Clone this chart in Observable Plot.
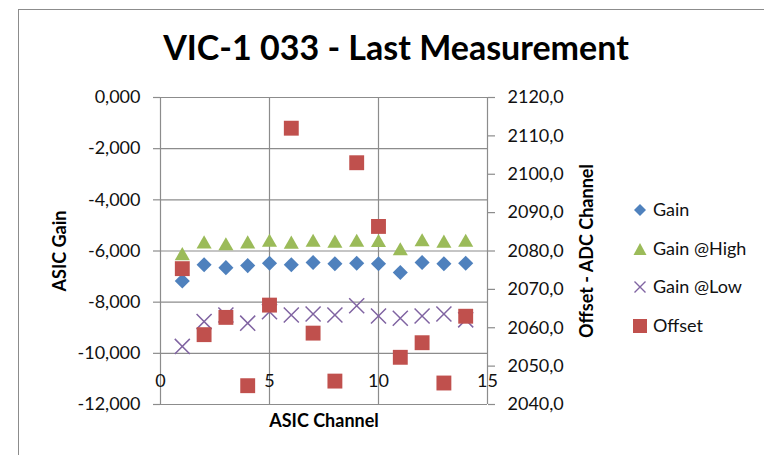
<!DOCTYPE html>
<html>
<head>
<meta charset="utf-8">
<script src="https://cdn.jsdelivr.net/npm/d3@7"></script>
<script src="https://cdn.jsdelivr.net/npm/@observablehq/plot@0.6"></script>
<style>
  html, body { margin: 0; padding: 0; background: #fff; overflow: hidden; }
  #wrap { position: relative; width: 764px; height: 455px; overflow: hidden; font-family: Lato, "Open Sans", sans-serif; color: #111; }
  #frame { position: absolute; left: 18px; top: 9px; width: 800px; height: 500px; border: 1px solid #8c8c8c; box-sizing: border-box; }
  #title { position: absolute; left: 0; width: 792px; top: 27px; text-align: center; font-weight: bold; font-size: 34px; line-height: 40px; color: #000; }
  #legend { position: absolute; left: 632px; top: 200px; font-size: 18px; }
  .item { position: absolute; left: 0; height: 20px; line-height: 20px; white-space: nowrap; }
  .item svg { position: absolute; left: 0; top: 2px; }
  .item span { position: absolute; left: 21px; top: -1px; }
  svg.plot { position: absolute; left: 0; top: 0; }
</style>
</head>
<body>
<div id="wrap">
  <div id="frame"></div>
  <div id="title"></div>
  <div id="legend"></div>
</div>
<script>
// ---- data ----
const title = "VIC-1 033 - Last Measurement";
const channels = [1, 2, 3, 4, 5, 6, 7, 8, 9, 10, 11, 12, 13, 14];
const gain     = [-7.17, -6.54, -6.65, -6.57, -6.48, -6.54, -6.45, -6.50, -6.48, -6.50, -6.84, -6.45, -6.50, -6.48];
const gainHigh = [-6.11, -5.65, -5.72, -5.65, -5.59, -5.66, -5.59, -5.62, -5.59, -5.60, -5.92, -5.57, -5.62, -5.59];
const gainLow  = [-9.73, -8.76, -8.50, -8.82, -8.37, -8.50, -8.46, -8.50, -8.14, -8.54, -8.63, -8.54, -8.46, -8.69];
const offset   = [2075.4, 2058.2, 2062.7, 2044.9, 2065.9, 2112.0, 2058.6, 2046.1, 2103.0, 2086.4, 2052.3, 2056.1, 2045.6, 2063.0];
const xTicks = [0, 5, 10, 15];
const leftTicks = [0, -2, -4, -6, -8, -10, -12];
const rightTicks = [2040, 2050, 2060, 2070, 2080, 2090, 2100, 2110, 2120];
const seriesNames = ["Gain", "Gain @High", "Gain @Low", "Offset"];
const colors = { blue: "#4F81BD", green: "#9BBB59", purple: "#8064A2", red: "#C0504D" };

// secondary axis mapped onto primary
const toLeft = d3.scaleLinear().domain([2040, 2120]).range([-12, 0]);
const rows = channels.map((c, i) => ({ ch: c, gain: gain[i], high: gainHigh[i], low: gainLow[i], offset: offset[i] }));

const fmtL = d => d.toFixed(3).replace(".", ",");
const fmtR = d => toLeft.invert(d).toFixed(1).replace(".", ",");
const grid = "#8c8c8c";
const FS = 18;

const chart = Plot.plot({
  width: 764, height: 455,
  marginLeft: 160, marginRight: 277, marginTop: 97, marginBottom: 51,
  x: { domain: [0, 15] },
  y: { domain: [-12, 0] },
  style: { fontFamily: "Lato, 'Open Sans', sans-serif", background: "transparent", color: "#111" },
  marks: [
    Plot.gridY(leftTicks, { stroke: grid, strokeOpacity: 1, strokeWidth: 1.2 }),
    Plot.gridX(xTicks, { stroke: grid, strokeOpacity: 1, strokeWidth: 1.2 }),
    Plot.axisY(leftTicks, { anchor: "left", tickSize: 7, tickPadding: 13, tickFormat: fmtL, fontSize: FS, stroke: grid, strokeWidth: 1.2, label: null }),
    Plot.axisY(rightTicks.map(toLeft), { anchor: "right", tickSize: 7, tickPadding: 13, tickFormat: fmtR, fontSize: FS, stroke: grid, strokeWidth: 1.2, label: null }),
    Plot.axisX(xTicks, { anchor: "bottom", tickSize: 0, tickPadding: 0, dy: -30, fontSize: FS, label: null }),
    Plot.text(["ASIC Gain"], { frameAnchor: "left", textAnchor: "middle", rotate: -90, dx: -100, fontWeight: "bold", fontSize: FS, fill: "#000" }),
    Plot.text(["Offset - ADC Channel"], { frameAnchor: "right", textAnchor: "middle", rotate: -90, dx: 100, fontWeight: "bold", fontSize: FS, fill: "#000" }),
    Plot.text(["ASIC Channel"], { frameAnchor: "bottom", dy: 22, fontWeight: "bold", fontSize: FS, fill: "#000" }),
    Plot.dot(rows, { x: "ch", y: "gain", symbol: "diamond2", r: 6.8, fill: colors.blue, stroke: "none" }),
    Plot.dot(rows, { x: "ch", y: "high", symbol: "triangle", r: 5.6, dy: 2, fill: colors.green, stroke: "none" }),
    Plot.dot(rows, { x: "ch", y: "low", symbol: "times", r: 6.9, stroke: colors.purple, strokeWidth: 1.5, fill: "none" }),
    Plot.dot(rows, { x: "ch", y: d => toLeft(d.offset), symbol: "square", r: 8.4, fill: colors.red, stroke: "none" })
  ]
});
chart.classList.add("plot");
document.getElementById("wrap").appendChild(chart);
document.getElementById("title").textContent = title;

// legend
const legendSymbols = [
  `<path d="M8,2 L14,8 L8,14 L2,8 Z" fill="${colors.blue}"/>`,
  `<path d="M8,2 L14.5,14 L1.5,14 Z" fill="${colors.green}"/>`,
  `<path d="M2.5,2.5 L13.5,13.5 M13.5,2.5 L2.5,13.5" stroke="${colors.purple}" stroke-width="1.4" fill="none"/>`,
  `<rect x="1" y="1" width="14" height="14" fill="${colors.red}"/>`
];
const lg = document.getElementById("legend");
seriesNames.forEach((name, i) => {
  const d = document.createElement("div");
  d.className = "item";
  d.style.top = (i * 38.5) + "px";
  d.innerHTML = `<svg width="16" height="16">${legendSymbols[i]}</svg><span>${name}</span>`;
  lg.appendChild(d);
});
</script>
</body>
</html>
